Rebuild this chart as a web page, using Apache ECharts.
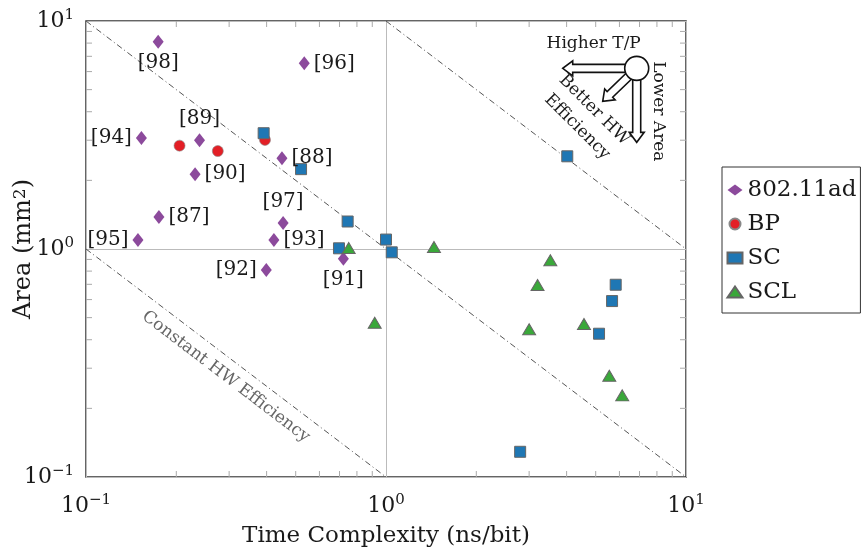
<!DOCTYPE html>
<html>
<head>
<meta charset="utf-8">
<script src="https://cdn.jsdelivr.net/npm/echarts/dist/echarts.min.js"></script>
<style>
  html, body { margin: 0; padding: 0; background: #fff; }
  #chart { width: 861px; height: 553px; }
</style>
</head>
<body>
<div id="chart"></div>
<script>
// ---- data: time complexity (ns/bit) vs. area (mm^2) ----
const wifiRefs = ['[98]', '[96]', '[94]', '[89]', '[90]', '[88]', '[87]', '[97]', '[95]', '[93]', '[92]', '[91]'];
const wifiX    = [0.174, 0.534, 0.153, 0.239, 0.231, 0.450, 0.175, 0.454, 0.149, 0.423, 0.399, 0.721];
const wifiY    = [8.11,  6.52,  3.07,  3.00,  2.13,  2.50,  1.38,  1.30,  1.095, 1.095, 0.809, 0.907];

const bpX  = [0.205, 0.275, 0.395];
const bpY  = [2.84,  2.69,  3.01];

const scX  = [0.391, 0.521, 4.02, 0.745, 0.697, 1.00, 1.045, 5.83,  5.67,  5.13,  2.80];
const scY  = [3.22,  2.24,  2.55, 1.32,  1.007, 1.10, 0.967, 0.697, 0.591, 0.425, 0.129];

const sclX = [0.751, 0.917, 1.445, 3.53,  3.20,  3.00,  4.57,  5.55,  6.13];
const sclY = [1.01,  0.475, 1.02,  0.892, 0.695, 0.445, 0.469, 0.278, 0.228];

// constant hardware-efficiency levels (time x area)
const effLevels = [0.1, 1, 10];

// axis ranges and minor-tick multipliers
const axisMin = 0.1, axisMax = 10;
const decades = [0.1, 1];
const minorMult = [2, 3, 4, 5, 6, 7, 8, 9];

// label side for each reference tag
const labelSide = {
  '[98]': 'bottom', '[96]': 'right', '[94]': 'left', '[89]': 'top', '[90]': 'right',
  '[88]': 'right', '[87]': 'right', '[97]': 'top', '[95]': 'left', '[93]': 'right',
  '[92]': 'left', '[91]': 'bottom'
};

const FONT = 'DejaVu Serif';
const INK = '#1a1a1a';
const zip = (xs, ys) => xs.map((x, i) => [x, ys[i]]);

const wifiData = wifiX.map((x, i) => ({
  name: wifiRefs[i],
  value: [x, wifiY[i]],
  label: { position: labelSide[wifiRefs[i]] }
}));

const effSeries = effLevels.map(c => {
  const x0 = Math.max(axisMin, c / axisMax);
  const x1 = Math.min(axisMax, c / axisMin);
  return {
    type: 'line', silent: true, symbol: 'none', z: 1,
    data: [[x0, c / x0], [x1, c / x1]],
    lineStyle: { color: '#555', width: 1, type: [6, 3, 1, 3] }
  };
});

const tickData = [];
decades.forEach(d => minorMult.forEach(m => {
  const v = d * m;
  tickData.push([v, v, 0]);
  tickData.push([v, v, 1]);
}));

// minor log ticks drawn inward on all four sides of the frame
function renderTick(params, api) {
  const v = api.value(0), kind = api.value(2);
  const len = 6;
  const style = { stroke: '#aaa', lineWidth: 1 };
  if (kind === 0) {
    const t = api.coord([v, axisMax]), b = api.coord([v, axisMin]);
    return { type: 'group', children: [
      { type: 'line', shape: { x1: t[0], y1: t[1], x2: t[0], y2: t[1] + len }, style },
      { type: 'line', shape: { x1: b[0], y1: b[1], x2: b[0], y2: b[1] - len }, style }
    ]};
  }
  const l = api.coord([axisMin, v]), r = api.coord([axisMax, v]);
  return { type: 'group', children: [
    { type: 'line', shape: { x1: l[0], y1: l[1], x2: l[0] + len, y2: l[1] }, style },
    { type: 'line', shape: { x1: r[0], y1: r[1], x2: r[0] - len, y2: r[1] }, style }
  ]};
}

function powLabel(v) {
  const e = Math.round(Math.log10(v));
  return '{b|10}{s|' + (e < 0 ? '\u2212' + (-e) : e) + '}';
}
const powRich = {
  b: { fontFamily: FONT, fontSize: 22, lineHeight: 27, color: INK },
  s: { fontFamily: FONT, fontSize: 15, lineHeight: 15, verticalAlign: 'top', color: INK }
};

const chart = echarts.init(document.getElementById('chart'), null, { renderer: 'canvas' });

chart.setOption({
  animation: false,
  backgroundColor: '#fff',
  textStyle: { fontFamily: FONT },
  grid: {
    left: 86, top: 21, right: 175, bottom: 76,
    outerBoundsMode: 'none', containLabel: false,
    show: true, borderColor: '#333', borderWidth: 1.5, backgroundColor: 'transparent'
  },
  xAxis: {
    type: 'log', logBase: 10, min: axisMin, max: axisMax,
    name: 'Time Complexity (ns/bit)', nameLocation: 'middle', nameGap: 48, nameMoveOverlap: false,
    nameTextStyle: { fontFamily: FONT, fontSize: 23, color: INK },
    axisLine: { show: false },
    axisTick: { show: false },
    splitLine: { show: true, lineStyle: { color: '#bbb', width: 1 } },
    axisLabel: { formatter: powLabel, rich: powRich, margin: 16 }
  },
  yAxis: {
    type: 'log', logBase: 10, min: axisMin, max: axisMax,
    name: 'Area (mm{s|2})', nameLocation: 'middle', nameGap: 50, nameMoveOverlap: false,
    nameTextStyle: {
      fontFamily: FONT, fontSize: 24, color: INK,
      rich: {
        s: { fontFamily: FONT, fontSize: 17, lineHeight: 17, verticalAlign: 'top', color: INK }
      }
    },
    axisLine: { show: false },
    axisTick: { show: false },
    splitLine: { show: true, lineStyle: { color: '#bbb', width: 1 } },
    axisLabel: { formatter: powLabel, rich: powRich, margin: 12 }
  },
  legend: {
    orient: 'vertical', left: 722, top: 167,
    data: ['802.11ad', 'BP', 'SC', 'SCL'],
    backgroundColor: '#fff', borderColor: '#333', borderWidth: 1,
    padding: [11, 4, 9, 4.5],
    itemWidth: 15, itemHeight: 11, itemGap: 10,
    textStyle: { fontFamily: FONT, fontSize: 23, lineHeight: 24, color: INK }
  },
  series: [
    ...effSeries,
    { type: 'custom', silent: true, z: 2, clip: false, renderItem: renderTick, data: tickData },
    {
      name: '802.11ad', type: 'scatter', symbol: 'diamond', symbolSize: [11, 14], z: 5,
      itemStyle: { color: '#8c4a9c', opacity: 1 },
      label: { show: true, formatter: '{b}', fontFamily: FONT, fontSize: 20, color: INK, distance: 4 },
      data: wifiData
    },
    {
      name: 'BP', type: 'scatter', symbol: 'circle', symbolSize: 11, z: 5,
      itemStyle: { color: '#e31f26', borderColor: '#888', borderWidth: 0.6, opacity: 1 },
      data: zip(bpX, bpY)
    },
    {
      name: 'SC', type: 'scatter', symbol: 'rect', symbolSize: 11, z: 5,
      itemStyle: { color: '#1f77b4', borderColor: '#666', borderWidth: 1, opacity: 1 },
      data: zip(scX, scY)
    },
    {
      name: 'SCL', type: 'scatter', symbol: 'triangle', symbolSize: [13, 11], z: 5,
      itemStyle: { color: '#3aa83a', borderColor: '#666', borderWidth: 1, opacity: 1 },
      data: zip(sclX, sclY)
    }
  ]
});

// ---- annotations: direction-of-improvement glyph and efficiency caption ----
const hubPoint = [6.85, 6.2];              // data position of the glyph's circle
const captionPoint = [0.288, 0.1 / 0.288]; // point on the lowest efficiency line

function arrowPoly(sx, sy, tx, ty) {
  const dx = tx - sx, dy = ty - sy, L = Math.hypot(dx, dy);
  const ux = dx / L, uy = dy / L, nx = -uy, ny = ux;
  const w = 4, h = 7.5, hl = 10;
  const bx = tx - ux * hl, by = ty - uy * hl;
  return [
    [sx + nx * w, sy + ny * w], [bx + nx * w, by + ny * w], [bx + nx * h, by + ny * h],
    [tx, ty],
    [bx - nx * h, by - ny * h], [bx - nx * w, by - ny * w], [sx - nx * w, sy - ny * w]
  ];
}

const hub = chart.convertToPixel({ gridIndex: 0 }, hubPoint);
const cap = chart.convertToPixel({ gridIndex: 0 }, captionPoint);
const lineA = chart.convertToPixel({ gridIndex: 0 }, [0.1, 1]);
const lineB = chart.convertToPixel({ gridIndex: 0 }, [1, 0.1]);
const lineAngle = Math.atan2(lineB[1] - lineA[1], lineB[0] - lineA[0]);

const arrowStyle = { fill: '#fff', stroke: '#111', lineWidth: 1.6 };
const hx = hub[0], hy = hub[1];

chart.setOption({
  graphic: [
    { type: 'polygon', z: 20, shape: { points: arrowPoly(hx - 6, hy, hx - 74, hy) }, style: arrowStyle },
    { type: 'polygon', z: 20, shape: { points: arrowPoly(hx, hy + 6, hx, hy + 74) }, style: arrowStyle },
    { type: 'polygon', z: 20, shape: { points: arrowPoly(hx - 5, hy + 5, hx - 34, hy + 33) }, style: arrowStyle },
    { type: 'circle', z: 21, shape: { cx: hx, cy: hy, r: 12 }, style: { fill: '#fff', stroke: '#111', lineWidth: 1.6 } },
    {
      type: 'text', z: 21, x: hx - 43, y: hy - 25,
      style: { text: 'Higher T/P', fontFamily: FONT, fontSize: 17, fill: INK, align: 'center', verticalAlign: 'middle' }
    },
    {
      type: 'text', z: 21, x: hx + 22, y: hy + 43, rotation: -Math.PI / 2,
      style: { text: 'Lower Area', fontFamily: FONT, fontSize: 17, fill: INK, align: 'center', verticalAlign: 'middle' }
    },
    {
      type: 'text', z: 21, x: hx - 51, y: hy + 50, rotation: -Math.PI / 4,
      style: { text: 'Better HW\nEfficiency', fontFamily: FONT, fontSize: 17, lineHeight: 24, fill: INK, align: 'center', verticalAlign: 'middle' }
    },
    {
      type: 'text', z: 21, x: cap[0] + 2, y: cap[1] + 23, rotation: -lineAngle,
      style: { text: 'Constant HW Efficiency', fontFamily: FONT, fontSize: 17, fill: '#666', align: 'center', verticalAlign: 'middle' }
    }
  ]
});
</script>
</body>
</html>
